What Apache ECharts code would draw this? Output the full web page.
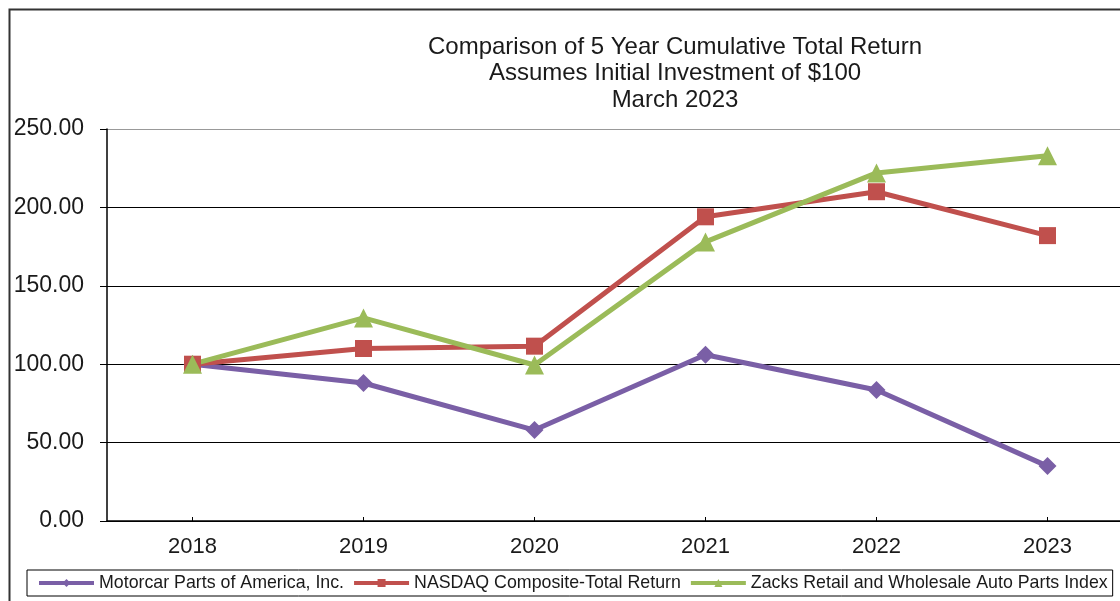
<!DOCTYPE html>
<html>
<head>
<meta charset="utf-8">
<script src="https://cdn.jsdelivr.net/npm/echarts@6/dist/echarts.min.js"></script>
<style>
html,body{margin:0;padding:0;background:#fff;}
#chart{width:1120px;height:601px;}
</style>
</head>
<body>
<div id="chart"></div>
<script>
var years = ['2018', '2019', '2020', '2021', '2022', '2023'];
var motorcar = [100, 88, 58, 106, 83.5, 35];
var nasdaq = [100, 110, 111.5, 194, 210, 182];
var zacks = [100, 129.5, 99.5, 178, 222, 233];
var yTicks = [0, 50, 100, 150, 200, 250];

function drawChart(){
    var chart = echarts.init(document.getElementById('chart'));
    var font = 'Liberation Sans, Arial, sans-serif';
    var option = {
        animation: false,
        backgroundColor: '#fff',
        title: {
            text: 'Comparison of 5 Year Cumulative Total Return\nAssumes Initial Investment of $100\nMarch 2023',
            left: 670,
            top: 29,
            textAlign: 'center',
            textStyle: {fontFamily: font, fontSize: 24, fontWeight: 'normal', color: '#1a1a1a', lineHeight: 26.5}
        },
        graphic: [{
            type: 'rect',
            shape: {x: 9.5, y: 9.5, width: 1200, height: 700},
            style: {fill: 'none', stroke: '#333', lineWidth: 2},
            silent: true
        }],
        legend: {
            left: 27,
            top: 570,
            width: 1100,
            padding: [4, 5, 4, 10],
            itemGap: 8,
            itemWidth: 55,
            itemHeight: 10,
            lineStyle: {width: 4},
            borderColor: '#000',
            borderWidth: 1,
            textStyle: {fontFamily: font, fontSize: 17.8, color: '#1a1a1a'},
            data: ['Motorcar Parts of America, Inc.', 'NASDAQ Composite-Total Return', 'Zacks Retail and Wholesale Auto Parts Index']
        },
        grid: {left: 107, top: 129, width: 1026, height: 392, outerBoundsMode: 'none'},
        xAxis: {
            type: 'category',
            data: years,
            boundaryGap: true,
            axisLine: {lineStyle: {color: '#000', width: 1.5}},
            axisTick: {show: true, alignWithLabel: true, inside: true, length: 4, lineStyle: {color: '#000'}},
            axisLabel: {fontFamily: font, fontSize: 22, color: '#1a1a1a', margin: 15}
        },
        yAxis: {
            type: 'value',
            min: yTicks[0],
            max: yTicks[yTicks.length - 1],
            interval: 50,
            axisLine: {show: true, lineStyle: {color: '#000', width: 1.5}},
            axisTick: {show: true, length: 7, lineStyle: {color: '#000'}},
            axisLabel: {fontFamily: font, fontSize: 23, color: '#1a1a1a', margin: 23,
                formatter: function(v){ return v.toFixed(2); }},
            splitLine: {show: true, lineStyle: {color: ['#000', '#000', '#000', '#000', '#000', '#999'], width: 1.2}}
        },
        series: [
            {
                name: 'Motorcar Parts of America, Inc.',
                type: 'line',
                data: motorcar,
                symbol: 'diamond',
                symbolSize: 18,
                itemStyle: {color: '#7a5fa6'},
                lineStyle: {color: '#7a5fa6', width: 5}
            },
            {
                name: 'NASDAQ Composite-Total Return',
                type: 'line',
                data: nasdaq,
                symbol: 'rect',
                symbolSize: 17,
                itemStyle: {color: '#c0504d'},
                lineStyle: {color: '#c0504d', width: 5}
            },
            {
                name: 'Zacks Retail and Wholesale Auto Parts Index',
                type: 'line',
                data: zacks,
                symbol: 'triangle',
                symbolSize: 19,
                itemStyle: {color: '#9bbb59'},
                lineStyle: {color: '#9bbb59', width: 5}
            }
        ]
    };
    chart.setOption(option);
}
drawChart();
</script>
</body>
</html>
